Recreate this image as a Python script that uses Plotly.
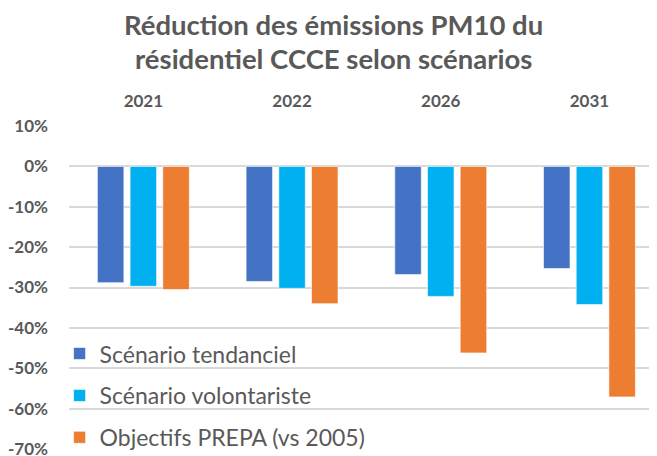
import plotly.graph_objects as go

categories = ["2021", "2022", "2026", "2031"]
tendanciel = [-0.288, -0.285, -0.268, -0.253]
volontariste = [-0.297, -0.302, -0.322, -0.342]
prepa = [-0.305, -0.340, -0.462, -0.571]
series_names = ["Scénario tendanciel", "Scénario volontariste", "Objectifs PREPA (vs 2005)"]
colors = ["#4472C4", "#00B0F0", "#ED7D31"]
tick_vals = [0.1, 0.0, -0.1, -0.2, -0.3, -0.4, -0.5, -0.6, -0.7]
tick_text = ["10%", "0%", "-10%", "-20%", "-30%", "-40%", "-50%", "-60%", "-70%"]
title_lines = ["Réduction des émissions PM10 du", "résidentiel CCCE selon scénarios"]

fig = go.Figure()
for name, vals, col in zip(series_names, [tendanciel, volontariste, prepa], colors):
    fig.add_trace(go.Bar(x=categories, y=vals, name=name, marker_color=col,
                         legendgroup=name,
                         marker_line=dict(color="rgba(255,255,255,0.6)", width=1)))

# The page body has an 8px margin, so the figure is sized to the visible area
W, H = 649, 448
L, T, B = 61, 118, 7
plot_h = H - T - B
plot_w = W - L
cat_px = 148.7

font_family = "Lato, 'Open Sans', sans-serif"
text_col = "#595959"
fig.update_layout(
    width=W, height=H,
    margin=dict(l=L, r=0, t=T, b=B, autoexpand=False),
    plot_bgcolor="white", paper_bgcolor="white",
    barmode="group", bargap=0.34, bargroupgap=0.19,
    font=dict(family=font_family, color=text_col),
    legend=dict(x=-0.016, y=0.362, xanchor="left", yanchor="top",
                traceorder="grouped", tracegroupgap=9,
                bgcolor="rgba(0,0,0,0)", font=dict(size=23, color=text_col),
                itemwidth=30),
    showlegend=True,
)
# Title lines (two centred lines)
for i, (line, ypx) in enumerate(zip(title_lines, [17, 50])):
    fig.add_annotation(text="<b>" + line + "</b>", xref="paper", yref="paper",
                       x=(325 - L) / plot_w, y=(H - B - ypx) / plot_h,
                       xanchor="center", yanchor="middle", showarrow=False,
                       font=dict(family=font_family, size=27.5, color=text_col))

fig.update_xaxes(side="top", type="category", range=[-0.5, plot_w / cat_px - 0.5],
                 tickvals=categories, ticktext=["<b>" + c + "</b>" for c in categories],
                 tickfont=dict(size=17, color=text_col, family=font_family),
                 ticklabelstandoff=15, showgrid=False, showline=False, ticks="",
                 automargin=False)
fig.update_yaxes(range=[-0.7, 0.1], tickvals=tick_vals,
                 ticktext=["<b>" + t + "</b>" for t in tick_text],
                 tickfont=dict(size=17, color=text_col, family=font_family),
                 showgrid=True, gridcolor="#D9D9D9", gridwidth=1.5,
                 zeroline=True, zerolinecolor="#D9D9D9", zerolinewidth=1.5,
                 showline=False, ticks="", ticklabelstandoff=20, automargin=False,
                 ticklabeloverflow="allow")
fig.write_html("out.html")
